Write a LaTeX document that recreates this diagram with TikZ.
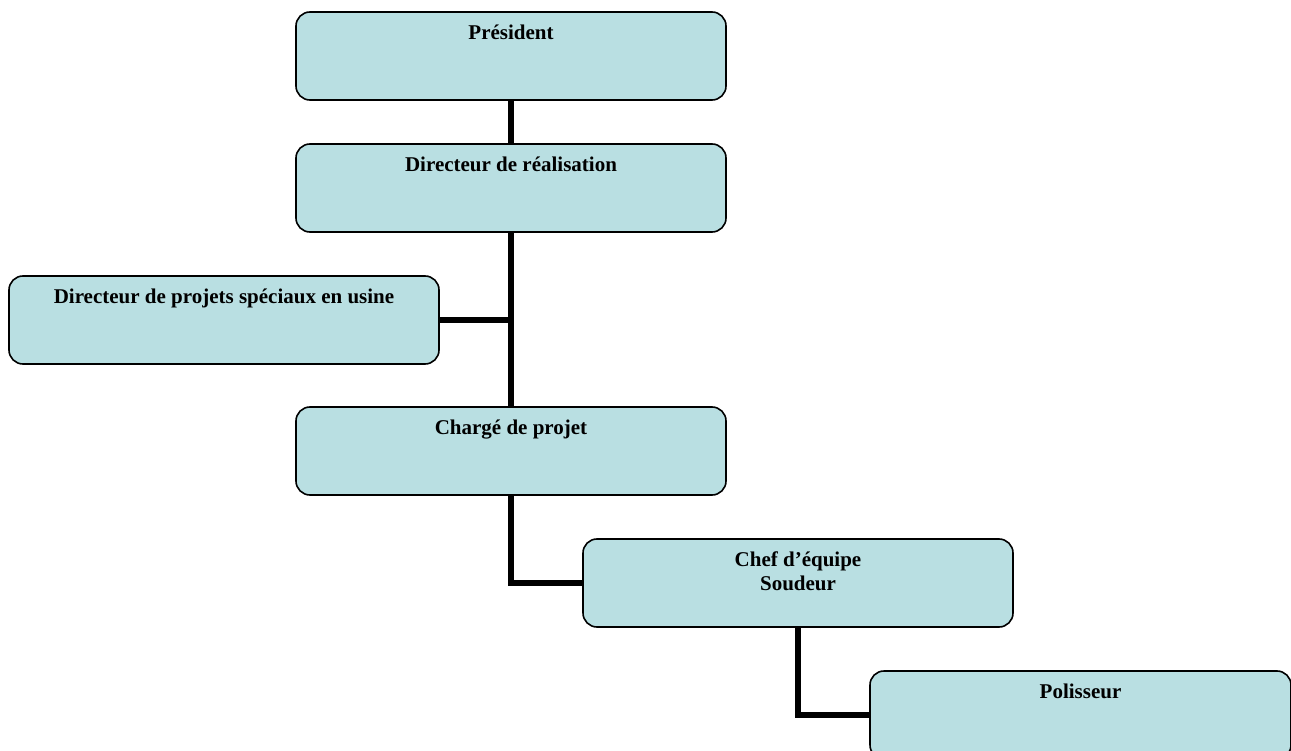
\documentclass[tikz,border=0pt]{standalone}
\usepackage{fontspec}
\setmainfont{Liberation Serif}
\usepackage{tikz}
\usetikzlibrary{positioning}
\definecolor{boxfill}{RGB}{185,223,226}

\begin{document}
\begin{tikzpicture}[
    auto, align = center,
    post/.style = {
      rectangle, rounded corners = 14pt, draw, line width = 1.6pt,
      fill = boxfill, minimum width = 430pt, minimum height = 88pt,
      inner sep = 0pt, outer sep = 0pt
    },
    title/.style = {
      anchor = north, inner sep = 0pt, yshift = -13pt, align = center,
      font = \fontsize{21}{24}\selectfont\bfseries
    },
    link/.style = {
      line width = 6pt
    },
    ]
    \useasboundingbox (0pt, 0pt) rectangle (1291pt, -751pt);

    % draw nodes
    \node  [post, label = {[title]north:Président}]  (pres)  at  (511pt, -56pt)  {};
    \node  [post, label = {[title]north:Directeur de réalisation}]  (dirr)  [below = 44pt of pres]  {};
    \node  [post, label = {[title]north:Directeur de projets spéciaux en usine}]  (dirp)  [below left = 44pt and -143pt of dirr]  {};
    \node  [post, label = {[title]north:Chargé de projet}]  (charge)  [below = 175pt of dirr]  {};
    \node  [post, label = {[title]north:Chef d’équipe\\Soudeur}]  (chef)  [below right = 44pt and -143pt of charge]  {};
    \node  [post, minimum width = 421pt, label = {[title]north:Polisseur}]  (polis)  [below right = 44pt and -143pt of chef]  {};

    % draw paths
    \draw  [link]  (pres)  --  (dirr);
    \draw  [link]  (dirr)  --  (charge);
    \draw  [link]  (dirp.east)  --  (dirp.east -| dirr.south);
    \draw  [link]  (charge.south)  |-  (chef.west);
    \draw  [link]  (chef.south)  |-  (polis.west);
\end{tikzpicture}
\end{document}
